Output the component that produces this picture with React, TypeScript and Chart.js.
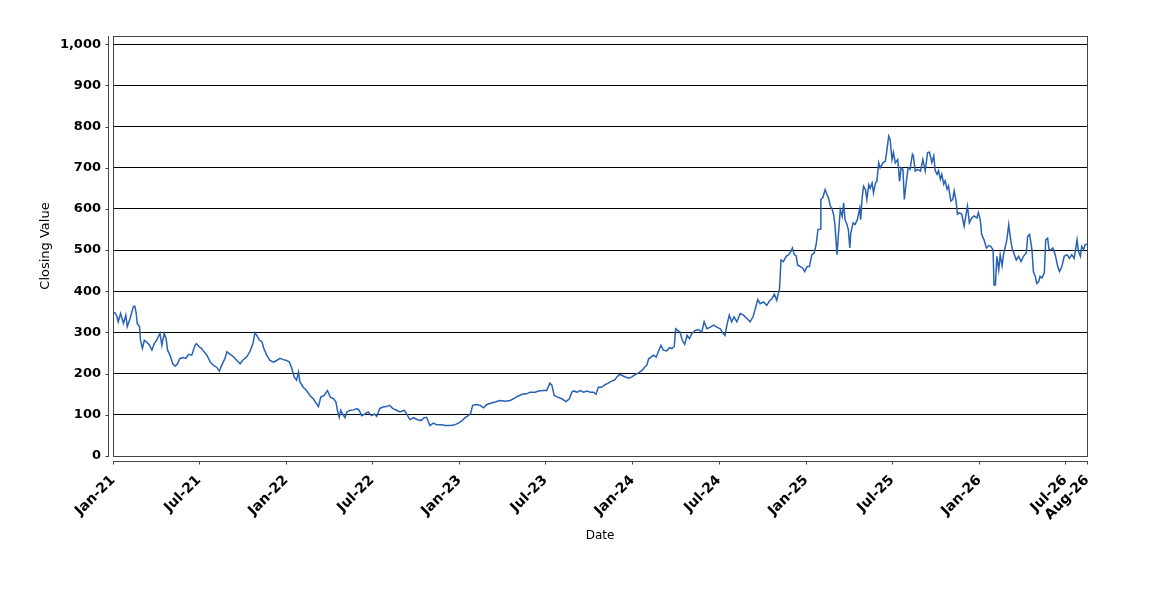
import { useEffect, useRef } from 'react';
import { Chart, registerables, type ChartConfiguration } from 'chart.js';

Chart.register(...registerables);

// x values are days counted from startDate
const startDate = '2021-01-01';

const days = [
  0, 4, 8, 11, 16, 22, 27, 30, 36, 43, 46, 49, 51, 56, 58, 62, 66, 71, 77, 82, 87, 92, 99, 103, 108, 112, 115, 120,
  126, 131, 136, 141, 148, 154, 159, 166, 173, 176, 182, 187, 192, 198, 205, 212, 219, 224, 229, 236, 240, 247, 254,
  261, 268, 273, 282, 289, 295, 299, 303, 309, 314, 318, 324, 331, 338, 345, 352, 359, 366, 372, 377, 382, 387, 391,
  394, 401, 408, 415, 422, 429, 433, 438, 445, 452, 458, 465, 470, 473, 477, 480, 484, 489, 493, 500, 507, 514, 519,
  524, 531, 538, 545, 551, 556, 562, 569, 576, 583, 590, 598, 605, 614, 621, 626, 633, 642, 649, 656, 661, 668, 675,
  682, 693, 700, 711, 719, 728, 735, 742, 749, 754, 758, 767, 774, 781, 788, 796, 805, 816, 827, 837, 844, 851, 862,
  872, 879, 890, 897, 907, 914, 921, 925, 930, 937, 946, 955, 962, 967, 971, 978, 985, 992, 999, 1006, 1013, 1018,
  1023, 1030, 1037, 1044, 1051, 1058, 1062, 1068, 1072, 1080, 1087, 1094, 1101, 1108, 1115, 1120, 1125, 1129, 1134,
  1139, 1145, 1150, 1155, 1160, 1167, 1173, 1178, 1183, 1186, 1190, 1195, 1200, 1205, 1210, 1215, 1220, 1227, 1234,
  1241, 1246, 1252, 1259, 1266, 1273, 1280, 1285, 1290, 1294, 1299, 1304, 1309, 1315, 1322, 1329, 1336, 1343, 1349,
  1354, 1359, 1364, 1371, 1378, 1384, 1389, 1394, 1399, 1405, 1408, 1413, 1419, 1424, 1429, 1432, 1436, 1440, 1443,
  1449, 1454, 1458, 1463, 1468, 1473, 1478, 1482, 1486, 1491, 1492, 1496, 1501, 1505, 1508, 1512, 1515, 1519, 1522,
  1526, 1529, 1533, 1537, 1540, 1543, 1547, 1550, 1553, 1555, 1560, 1564, 1569, 1574, 1576, 1579, 1582, 1586, 1589,
  1593, 1596, 1600, 1603, 1607, 1610, 1614, 1617, 1623, 1628, 1631, 1635, 1638, 1642, 1645, 1649, 1654, 1658, 1661,
  1665, 1668, 1671, 1676, 1680, 1685, 1687, 1691, 1696, 1702, 1707, 1712, 1717, 1721, 1726, 1730, 1733, 1737, 1740,
  1744, 1747, 1751, 1754, 1758, 1761, 1766, 1770, 1773, 1777, 1780, 1784, 1789, 1794, 1798, 1801, 1805, 1810, 1815,
  1821, 1824, 1828, 1831, 1836, 1841, 1846, 1850, 1855, 1857, 1860, 1863, 1867, 1870, 1874, 1877, 1881, 1884, 1888,
  1891, 1895, 1900, 1904, 1909, 1914, 1919, 1925, 1928, 1932, 1937, 1940, 1944, 1947, 1951, 1954, 1958, 1963, 1966,
  1970, 1973, 1977, 1981, 1986, 1991, 1995, 2000, 2005, 2011, 2016, 2021, 2026, 2032, 2035, 2039, 2042, 2046, 2049,
  2053
];

const closes = [
  345, 348, 340, 326, 346, 322, 342, 314, 334, 363, 364, 346, 322, 314, 281, 261, 281, 277, 269, 257, 273, 281, 298,
  269, 298, 285, 257, 245, 224, 218, 224, 237, 239, 237, 247, 245, 269, 273, 265, 261, 253, 245, 228, 220, 215, 206,
  220, 237, 253, 247, 241, 232, 224, 232, 241, 255, 273, 299, 293, 281, 277, 261, 245, 232, 228, 232, 237, 234, 232,
  228, 212, 192, 184, 204, 180, 167, 159, 147, 139, 127, 120, 143, 147, 159, 143, 139, 131, 111, 94, 111, 102, 93, 107,
  111, 112, 115, 111, 98, 102, 107, 98, 102, 96, 115, 119, 120, 123, 115, 111, 107, 111, 98, 88, 93, 88, 86, 93, 94,
  74, 80, 76, 76, 74, 74, 75, 80, 85, 93, 98, 104, 123, 125, 123, 117, 125, 128, 131, 135, 133, 135, 139, 144, 150,
  151, 155, 155, 158, 159, 159, 177, 172, 147, 143, 139, 132, 139, 155, 158, 155, 159, 155, 158, 155, 155, 150, 167,
  167, 173, 177, 182, 185, 192, 198, 196, 192, 189, 192, 198, 202, 208, 215, 220, 236, 240, 245, 240, 255, 269, 257,
  255, 263, 261, 266, 309, 305, 301, 281, 271, 293, 285, 297, 305, 307, 301, 326, 309, 313, 318, 313, 309, 299, 293,
  318, 342, 326, 338, 326, 346, 342, 334, 326, 338, 358, 380, 370, 374, 366, 377, 382, 393, 378, 407, 476, 472, 485,
  489, 497, 505, 489, 486, 464, 460, 456, 448, 460, 460, 489, 493, 513, 550, 551, 623, 627, 647, 635, 627, 607, 602,
  586, 558, 489, 537, 598, 582, 615, 574, 562, 550, 505, 541, 566, 562, 574, 602, 574, 627, 655, 647, 623, 659, 650,
  663, 639, 663, 667, 712, 700, 712, 716, 741, 777, 769, 720, 737, 712, 720, 667, 700, 696, 623, 655, 700, 696, 733,
  729, 692, 696, 692, 720, 692, 737, 738, 713, 729, 693, 684, 693, 672, 684, 660, 668, 648, 656, 619, 623, 644, 619,
  587, 591, 587, 558, 587, 607, 566, 578, 583, 578, 591, 574, 538, 525, 505, 511, 509, 501, 415, 415, 485, 452, 489,
  462, 489, 509, 525, 562, 534, 505, 489, 476, 485, 472, 485, 493, 534, 538, 501, 448, 436, 419, 423, 436, 432, 444,
  525, 529, 501, 501, 505, 489, 462, 448, 460, 485, 489, 480, 489, 480, 525, 497, 485, 509, 501, 513, 515
];

const tickDates = [
  '2021-01-01', '2021-07-01', '2022-01-01', '2022-07-01', '2023-01-01', '2023-07-01', '2024-01-01',
  '2024-07-01', '2025-01-01', '2025-07-01', '2026-01-01', '2026-07-01', '2026-08-16'
];
const tickLabels = [
  'Jan-21', 'Jul-21', 'Jan-22', 'Jul-22', 'Jan-23', 'Jul-23', 'Jan-24',
  'Jul-24', 'Jan-25', 'Jul-25', 'Jan-26', 'Jul-26', 'Aug-26'
];
const yTicks = [0, 100, 200, 300, 400, 500, 600, 700, 800, 900, 1000];

const dayOf = (d: string) => Math.round((Date.parse(d) - Date.parse(startDate)) / 86400000);
const tickDays = tickDates.map(dayOf);

const FONT = "'DejaVu Sans', sans-serif";

// plot frame plus axis lines set a few pixels away from it
const framePlugin = {
  id: 'frame',
  afterDraw(chart: Chart) {
    const { ctx, chartArea: a, scales } = chart;
    ctx.save();
    ctx.strokeStyle = '#444';
    ctx.lineWidth = 1;
    ctx.strokeRect(a.left + 0.5, a.top + 0.5, a.right - a.left, a.bottom - a.top);

    ctx.beginPath();
    const ax = a.left - 4.5;
    ctx.moveTo(ax, a.top);
    ctx.lineTo(ax, a.bottom + 1);
    scales.y.ticks.forEach(t => {
      const y = Math.round(scales.y.getPixelForValue(t.value)) + 0.5;
      ctx.moveTo(ax - 3, y);
      ctx.lineTo(ax, y);
    });
    const ay = a.bottom + 5.5;
    ctx.moveTo(a.left, ay);
    ctx.lineTo(a.right + 1, ay);
    scales.x.ticks.forEach(t => {
      const x = Math.round(scales.x.getPixelForValue(t.value)) + 0.5;
      ctx.moveTo(x, ay);
      ctx.lineTo(x, ay + 3);
    });
    ctx.stroke();
    ctx.restore();
  }
};

export default function App() {
  const canvasRef = useRef<HTMLCanvasElement>(null);

  useEffect(() => {
    document.body.style.margin = '0';
    const el = canvasRef.current;
    if (!el) return;

    const config: ChartConfiguration<'line', { x: number; y: number }[]> = {
      type: 'line',
      data: {
        datasets: [
          {
            label: 'Closing Value',
            data: days.map((d, i) => ({ x: d, y: closes[i] })),
            borderColor: '#2862b4',
            borderWidth: 1.5,
            pointRadius: 0,
            tension: 0,
            fill: false
          }
        ]
      },
      options: {
        responsive: false,
        animation: false,
        layout: { padding: { top: 36, right: 63, left: 0, bottom: 0 } },
        plugins: {
          legend: { display: false },
          tooltip: { enabled: false }
        },
        scales: {
          x: {
            type: 'linear',
            min: 0,
            max: tickDays[tickDays.length - 1],
            afterBuildTicks: scale => {
              scale.ticks = tickDays.map(v => ({ value: v }));
            },
            afterFit: scale => {
              scale.height = 144;
            },
            grid: { display: false },
            border: { display: false },
            ticks: {
              autoSkip: false,
              maxRotation: 45,
              minRotation: 45,
              padding: 8,
              color: '#000',
              font: { family: FONT, size: 14, weight: 'bold' },
              callback: (_v, i) => tickLabels[i]
            },
            title: {
              display: true,
              text: 'Date',
              color: '#000',
              font: { family: FONT, size: 12 },
              padding: { top: 0, bottom: 57 }
            }
          },
          y: {
            type: 'linear',
            min: 0,
            max: 1020,
            afterBuildTicks: scale => {
              scale.ticks = yTicks.map(v => ({ value: v }));
            },
            afterFit: scale => {
              scale.width = 113;
            },
            grid: { color: '#000', lineWidth: 1, drawTicks: false },
            border: { display: false },
            ticks: {
              padding: 12,
              color: '#000',
              font: { family: FONT, size: 13, weight: 'bold' },
              callback: v => Number(v).toLocaleString('en-US')
            },
            title: {
              display: true,
              text: 'Closing Value',
              color: '#000',
              font: { family: FONT, size: 13 },
              padding: { top: 38, bottom: 0 }
            }
          }
        }
      },
      plugins: [framePlugin]
    };

    const chart = new Chart(el, config);
    return () => chart.destroy();
  }, []);

  return <canvas ref={canvasRef} width={1150} height={600} />;
}
